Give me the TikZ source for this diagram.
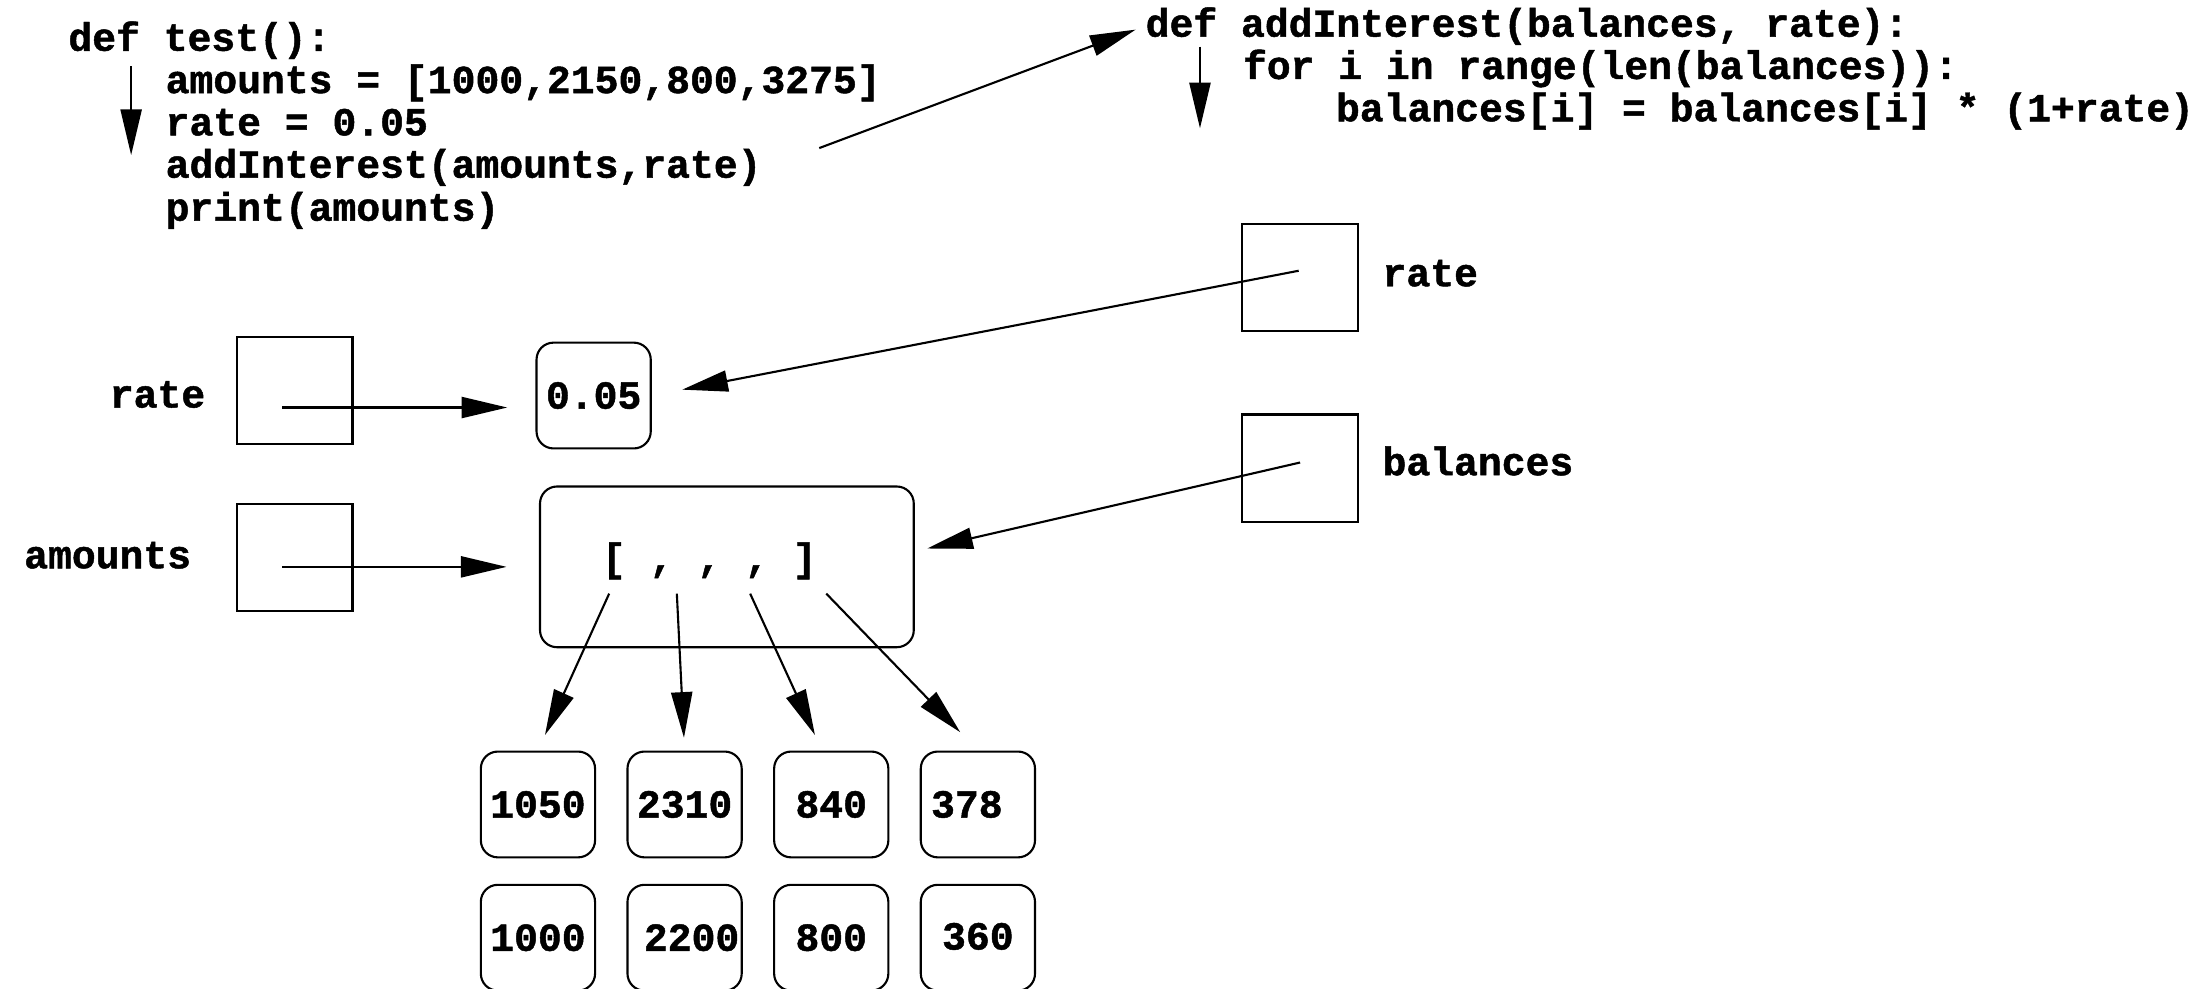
\documentclass[tikz,border=0pt]{standalone}
\usepackage{fontspec}
\setmonofont{Liberation Mono}[BoldFeatures={FakeBold=1.2}]
\usetikzlibrary{arrows.meta}
\begin{document}
\begin{tikzpicture}[x=0.0141cm,y=-0.0141cm,
  every node/.style={font=\ttfamily\bfseries\fontsize{11.3}{13}\selectfont, inner sep=0pt},
  code/.style={anchor=base west},
  rlabel/.style={anchor=base east},
  ptrbox/.style={draw, line width=0.6pt, minimum width=1.156cm, minimum height=1.072cm},
  valbox/.style={draw, line width=0.6pt, rounded corners=0.17cm, minimum width=1.142cm, minimum height=1.058cm},
  arr/.style={line width=0.6pt, -{Triangle[length=13pt,width=6pt]}},
]
\useasboundingbox (0,0) rectangle (1568,701);

% code of test()
\node[code] (t1) at (48,36) {def test():};
\node[code] (t2) at (117,66) {amounts = [1000,2150,800,3275]};
\node[code] (t3) at (117,96) {rate = 0.05};
\node[code] (t4) at (117,126) {addInterest(amounts,rate)};
\node[code] (t5) at (117,156.5) {print(amounts)};
\coordinate (la1) at (93,47);
\coordinate (la2) at (93,110);
\draw[arr] (la1) -- (la2);

% code of addInterest()
\node[code] (a1) at (812,26) {def addInterest(balances, rate):};
\node[code] (a2) at (881,56) {for i in range(len(balances)):};
\node[code] (a3) at (947,86) {balances[i] = balances[i] * (1+rate)};
\coordinate (ra1) at (851,33);
\coordinate (ra2) at (851,91);
\draw[arr] (ra1) -- (ra2);

% call arrow
\coordinate (callS) at (581,105);
\draw[arr, shorten >=0.1cm] (callS) -- (a1.west);

% variables of addInterest
\node[ptrbox] (rrate) at (922,197) {};
\node[code] (rrateL) at (980,203) {rate};
\node[ptrbox] (rbal) at (922,332) {};
\node[code] (rbalL) at (980,337) {balances};

% variables of test
\node[ptrbox] (lrate) at (209,277) {};
\node[rlabel] (lrateL) at (146,289) {rate};
\node[ptrbox] (lamt) at (209,395.5) {};
\node[rlabel] (lamtL) at (136,403) {amounts};

% values
\node[valbox] (v005) at (421,280.5) {0.05};
\node[draw, line width=0.6pt, rounded corners=0.17cm, minimum width=3.737cm, minimum height=1.607cm] (lst) at (515.5,402) {};
\node[anchor=base] (lstT) at (503,405) {[ , , , ]};

\node[valbox] (n1) at (381.5,570.5) {1050};
\node[valbox] (n2) at (485.5,570.5) {\raisebox{-0.03cm}{2310}};
\node[valbox] (n3) at (589.5,570.5) {\raisebox{-0.03cm}{840}};
\node[valbox] (n4) at (693.5,570.5) {\raisebox{-0.03cm}{378}\kern0.22cm};
\node[valbox] (m1) at (381.5,665) {1000};
\node[valbox] (m2) at (485.5,665) {\kern0.14cm\raisebox{-0.03cm}{2200}};
\node[valbox] (m3) at (589.5,665) {800};
\node[valbox] (m4) at (693.5,665) {\raisebox{0.03cm}{360}};

% pointers
\coordinate (lrateP) at (200,289);
\coordinate (lamtP) at (200,402);
\coordinate (rrateP) at (921,192);
\coordinate (rbalP) at (922,328);
\draw[arr, shorten >=0.282cm] (lrateP) -- (lrateP -| v005.west);
\draw[arr, shorten >=0.324cm] (lamtP) -- (lamtP -| lst.west);
\draw[arr, shorten >=0.31cm] (rrateP) -- (v005.east);
\draw[arr, shorten >=0.127cm] (rbalP) -- ([yshift=0.155cm]lst.east);

% list element pointers
\coordinate (e1) at (432,421);
\coordinate (e2) at (480,421);
\coordinate (e3) at (532,421);
\coordinate (e4) at (586,421);
\draw[arr, shorten >=0.17cm] (e1) -- (n1.north);
\draw[arr, shorten >=0.127cm] (e2) -- (n2.north);
\draw[arr, shorten >=0.17cm] (e3) -- ([xshift=-0.092cm]n3.north);
\draw[arr, shorten >=0.254cm] (e4) -- (n4.north);
\end{tikzpicture}
\end{document}
